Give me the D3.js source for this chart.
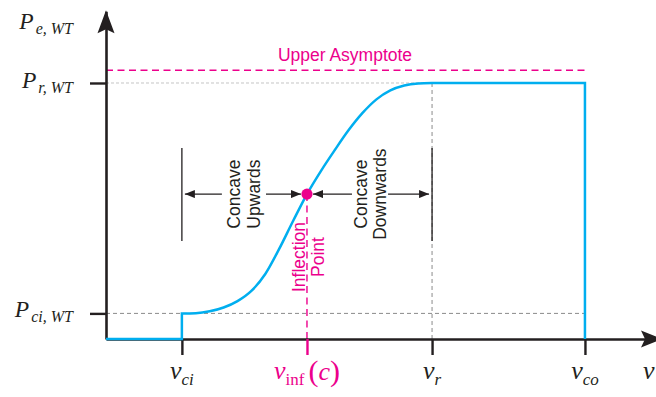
<!DOCTYPE html>
<html><head><meta charset="utf-8">
<script src="https://cdn.jsdelivr.net/npm/d3@7"></script>
<style>
html,body{margin:0;padding:0;background:#fff;}
svg{display:block;}
</style></head><body>
<svg id="chart" width="656" height="397"></svg>
<script>
// Wind turbine power curve with cut-in, inflection, rated and cut-out speeds.
const curveSpeeds = [3, 3.5, 4, 4.5, 5, 5.5, 6, 6.5, 7, 7.5, 8, 8.5, 9, 9.5, 10, 10.5, 11, 11.5, 12];
const curvePowers = [0.1, 0.101, 0.108, 0.123, 0.148, 0.188, 0.254, 0.352, 0.461, 0.566, 0.656, 0.738, 0.816, 0.883, 0.936, 0.971, 0.99, 0.998, 1.0];
const keySpeeds = [3, 7.5, 12, 17.5];             // v_ci, v_inf, v_r, v_co
const keySpeedSubs = ["ci", "inf", "r", "co"];
const powerLevels = [0.1, 1.0];                    // P_ci,WT and P_r,WT
const powerSubs = ["ci, WT", "r, WT"];
const upperAsymptote = 1.05;
const inflectionPower = 0.566;
const speedDomain = [0.27, 20.2];
const powerDomain = [0, 1.28];

const BLACK = "#231F20", BLUE = "#00AEEF", PINK = "#EC008C";
const SANS = "'Liberation Sans', Arial, Helvetica, sans-serif";
const SERIF = "'Liberation Serif', 'Times New Roman', serif";

const svg = d3.select("#chart");
const x = d3.scaleLinear().domain(speedDomain).range([106, 660]);
const y = d3.scaleLinear().domain(powerDomain).range([339, 11.3]);
const [vci, vinf, vr, vco] = keySpeeds;
const [Pci, Pr] = powerLevels;
const x0 = x(speedDomain[0]), y0 = y(0);

// Reference guide lines
svg.append("line").attr("x1", x0).attr("x2", x(vr)).attr("y1", y(Pr)).attr("y2", y(Pr))
  .attr("stroke", "#c4c4c4").attr("stroke-width", 1).attr("stroke-dasharray", "3,2");
svg.append("line").attr("x1", x0).attr("x2", x(vco)).attr("y1", y(Pci)).attr("y2", y(Pci))
  .attr("stroke", "#8a8a8a").attr("stroke-width", 1).attr("stroke-dasharray", "4,3");
svg.append("line").attr("x1", x(vr)).attr("x2", x(vr)).attr("y1", y(Pr)).attr("y2", y0)
  .attr("stroke", "#8a8a8a").attr("stroke-width", 1).attr("stroke-dasharray", "4,3");

// Upper asymptote
svg.append("line").attr("x1", x0).attr("x2", x(vco)).attr("y1", y(upperAsymptote)).attr("y2", y(upperAsymptote))
  .attr("stroke", PINK).attr("stroke-width", 1.4).attr("stroke-dasharray", "7,4.5");
svg.append("text").attr("x", 345).attr("y", 61).attr("text-anchor", "middle")
  .attr("font-family", SANS).attr("font-size", 17.5).attr("fill", PINK).text("Upper Asymptote");

// Inflection guide
svg.append("line").attr("x1", x(vinf)).attr("x2", x(vinf)).attr("y1", y(inflectionPower)).attr("y2", y0)
  .attr("stroke", PINK).attr("stroke-width", 1.4).attr("stroke-dasharray", "7,4.5");

// Axes
const xAxis = d3.axisBottom(x).tickValues(keySpeeds).tickSizeInner(16).tickSizeOuter(0).tickFormat("");
const gx = svg.append("g").attr("transform", `translate(0,${y0})`).attr("color", BLACK).call(xAxis);
gx.select(".domain").attr("stroke-width", 2.6);
gx.selectAll(".tick line").attr("stroke-width", 2.4)
  .attr("stroke", d => d === vinf ? PINK : BLACK);

const yAxis = d3.axisLeft(y).tickValues(powerLevels).tickSizeInner(16).tickSizeOuter(0).tickFormat("");
const gy = svg.append("g").attr("transform", `translate(${x0},0)`).attr("color", BLACK).call(yAxis);
gy.select(".domain").attr("stroke-width", 2.6);
gy.selectAll(".tick line").attr("stroke-width", 2.4);

// Axis arrowheads
const yTip = y(powerDomain[1]) - 1;
svg.append("path").attr("fill", BLACK)
  .attr("d", `M${x0},${yTip} L${x0 - 8.5},${yTip + 23} L${x0},${yTip + 19} L${x0 + 8.5},${yTip + 23} Z`);
const xTip = x(speedDomain[1]) + 2;
svg.append("path").attr("fill", BLACK)
  .attr("d", `M${xTip},${y0} L${xTip - 21},${y0 - 8.5} L${xTip - 17},${y0} L${xTip - 21},${y0 + 8.5} Z`);

// Concavity brackets
[vci, vr].forEach(v => {
  svg.append("line").attr("x1", x(v)).attr("x2", x(v)).attr("y1", 148).attr("y2", 241)
    .attr("stroke", BLACK).attr("stroke-width", 1.3);
});
const defs = svg.append("defs");
defs.append("marker").attr("id", "ah").attr("viewBox", "0 0 10 8").attr("refX", 10).attr("refY", 4)
  .attr("markerUnits", "userSpaceOnUse").attr("markerWidth", 11).attr("markerHeight", 8).attr("orient", "auto")
  .append("path").attr("d", "M0,0 L10,4 L0,8 Z").attr("fill", BLACK);
const ay = y(inflectionPower);
const arrows = [
  [x(vci) + 40, x(vci) + 3], [x(vinf) - 41, x(vinf) - 6],
  [x(vinf) + 45, x(vinf) + 6], [x(vr) - 44, x(vr) - 3]
];
arrows.forEach(([from, to]) => {
  svg.append("line").attr("x1", from).attr("x2", to).attr("y1", ay).attr("y2", ay)
    .attr("stroke", BLACK).attr("stroke-width", 1.3).attr("marker-end", "url(#ah)");
});

function verticalLabel(cx, cy, lines, offsets, color) {
  const t = svg.append("text").attr("transform", `translate(${cx},${cy}) rotate(-90)`)
    .attr("text-anchor", "middle").attr("font-family", SANS).attr("font-size", 17.5).attr("fill", color);
  lines.forEach((s, i) => t.append("tspan").attr("x", 0).attr("y", offsets[i]).text(s));
}
verticalLabel((x(vci) + x(vinf)) / 2, ay, ["Concave", "Upwards"], [-4, 15.5], BLACK);
verticalLabel((x(vinf) + x(vr)) / 2, ay, ["Concave", "Downwards"], [-3, 16.5], BLACK);
verticalLabel(x(vinf), 257, ["Inflection", "Point"], [-2, 17], PINK);

// Power curve: zero below cut-in, S-shaped rise, rated plateau, cut-out drop
const sCurve = d3.line().x((d, i) => x(curveSpeeds[i])).y(d => y(d)).curve(d3.curveMonotoneX)(curvePowers);
const fullPath = `M${x0},${y0} L${x(vci)},${y0} ` + sCurve.replace(/^M/, "L") +
  ` L${x(vco)},${y(Pr)} L${x(vco)},${y0}`;
svg.append("path").attr("d", fullPath).attr("fill", "none").attr("stroke", BLUE)
  .attr("stroke-width", 2.5).attr("stroke-linejoin", "miter");

// Inflection point
svg.append("circle").attr("cx", x(vinf)).attr("cy", y(inflectionPower)).attr("r", 5.6).attr("fill", PINK);

// Axis labels (math style)
const yAxisLabels = [["e, WT", powerDomain[1]], ...powerSubs.map((s, i) => [s, powerLevels[i]])];
yAxisLabels.forEach(([sub, p], i) => {
  const base = i === 0 ? 28.5 : y(p) + (p === Pr ? 5 : 3.5);
  const t = svg.append("text").attr("x", 73).attr("y", base).attr("text-anchor", "end")
    .attr("font-family", SERIF).attr("font-style", "italic").attr("fill", BLACK);
  t.append("tspan").attr("font-size", 23.5).text("P");
  t.append("tspan").attr("font-size", 16).attr("dx", 2).attr("dy", 5.5).text(sub);
});

keySpeeds.forEach((v, i) => {
  const isInf = keySpeedSubs[i] === "inf";
  const color = isInf ? PINK : BLACK;
  const t = svg.append("text").attr("y", 379).attr("font-family", SERIF).attr("fill", color)
    .attr("text-anchor", isInf ? "start" : "middle").attr("x", isInf ? x(v) - 33 : x(v));
  t.append("tspan").attr("font-size", 26).attr("font-style", "italic").text("v");
  const sub = t.append("tspan").attr("font-size", 17).attr("dy", 6).text(keySpeedSubs[i]);
  if (isInf) {
    sub.attr("font-style", "normal");
    t.append("tspan").attr("font-size", 30).attr("dy", -4).attr("dx", 4).text("(");
    t.append("tspan").attr("font-size", 26).attr("font-style", "italic").attr("dy", -1).text("c");
    t.append("tspan").attr("font-size", 30).attr("dy", 1).text(")");
  } else {
    sub.attr("font-style", "italic");
  }
});
svg.append("text").attr("x", 643).attr("y", 379).attr("font-family", SERIF).attr("font-style", "italic")
  .attr("font-size", 26).attr("fill", BLACK).text("v");
</script>
</body></html>
